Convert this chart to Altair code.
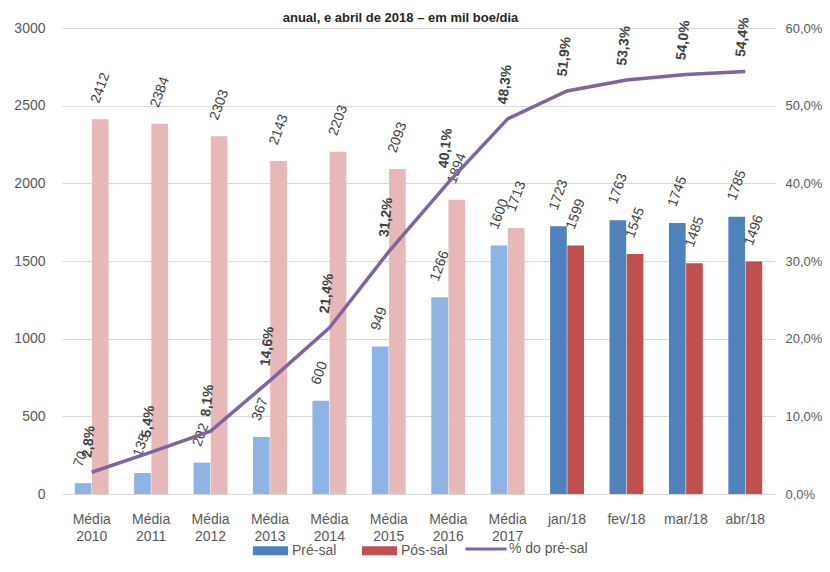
import altair as alt
import pandas as pd

FONT = "Liberation Sans, Arial, sans-serif"

cats = ["Média 2010", "Média 2011", "Média 2012", "Média 2013", "Média 2014",
        "Média 2015", "Média 2016", "Média 2017", "jan/18", "fev/18", "mar/18", "abr/18"]
periodo = ["anual"] * 8 + ["mensal"] * 4
pre_sal = [70, 135, 202, 367, 600, 949, 1266, 1600, 1723, 1763, 1745, 1785]
pos_sal = [2412, 2384, 2303, 2143, 2203, 2093, 1894, 1713, 1599, 1545, 1485, 1496]
pct_pre = [2.8, 5.4, 8.1, 14.6, 21.4, 31.2, 40.1, 48.3, 51.9, 53.3, 54.0, 54.4]

series = ["Pré-sal", "Pós-sal"]
color_domain = ["Pré-sal", "Pós-sal", "Pré-sal anual", "Pós-sal anual"]
color_range = ["#4F81BD", "#C0504D", "#8EB4E3", "#E6B9B8"]

rows = []
for c, per, a, b in zip(cats, periodo, pre_sal, pos_sal):
    suf = " anual" if per == "anual" else ""
    rows.append({"cat": c, "serie": "Pré-sal", "cor": "Pré-sal" + suf, "valor": a})
    rows.append({"cat": c, "serie": "Pós-sal", "cor": "Pós-sal" + suf, "valor": b})
bars_df = pd.DataFrame(rows)
line_df = pd.DataFrame({"cat": cats, "pct": pct_pre, "serie": "% do pré-sal"})

x_enc = alt.X(
    "cat:N", sort=cats,
    scale=alt.Scale(paddingInner=0.43, paddingOuter=0.215),
    axis=alt.Axis(title=None, labelExpr="split(datum.label, ' ')", labelAngle=0,
                  labelFontSize=14, labelColor="#595959", labelFont=FONT,
                  ticks=False, domain=False, labelPadding=18, labelLineHeight=17,
                  labelBaseline="top"),
)
xoff = alt.XOffset("serie:N", sort=series, scale=alt.Scale(paddingInner=0.03))

y_left = alt.Y(
    "valor:Q", scale=alt.Scale(domain=[0, 3000], nice=False),
    axis=alt.Axis(title=None, values=[0, 500, 1000, 1500, 2000, 2500, 3000], format="d",
                  grid=True, gridColor="#D9D9D9", ticks=False, domain=False,
                  labelPadding=17, labelFontSize=14, labelColor="#595959", labelFont=FONT),
)

bar_legend = alt.Legend(
    title=None, orient="none", legendX=190, legendY=504, direction="horizontal",
    values=["Pré-sal", "Pós-sal"], symbolSize=1369,
    symbolType="M-0.95,-0.24H0.95V0.24H-0.95Z",
    labelFontSize=14, labelColor="#595959", labelFont=FONT, columnPadding=24,
    labelOffset=3, symbolStrokeWidth=0,
)

line_legend = alt.Legend(
    title=None, orient="none", legendX=402, legendY=499, direction="horizontal",
    symbolSize=1681, symbolType="M-1,0H1", symbolStrokeWidth=3,
    labelFontSize=14, labelColor="#595959", labelFont=FONT, labelOffset=1,
)

bars = alt.Chart(bars_df).mark_bar().encode(
    x=x_enc, xOffset=xoff, y=y_left,
    color=alt.Color("cor:N", scale=alt.Scale(domain=color_domain, range=color_range),
                    legend=bar_legend),
)

bar_text = alt.Chart(bars_df).mark_text(
    angle=290, align="left", baseline="middle", dx=14, dy=-10.5,
    fontSize=14, font=FONT, color="#404040",
).encode(
    x=x_enc, xOffset=xoff, y=y_left,
    text=alt.Text("valor:Q", format="d"),
)

y_right = alt.Y(
    "pct:Q", scale=alt.Scale(domain=[0, 60], nice=False),
    axis=alt.Axis(title=None, orient="right", values=[0, 10, 20, 30, 40, 50, 60],
                  labelExpr="replace(format(datum.value, '.1f'), '.', ',') + '%'",
                  grid=False, ticks=False, domain=False, labelPadding=10,
                  labelFontSize=13, labelColor="#595959", labelFont=FONT),
)

line = alt.Chart(line_df).mark_line(strokeWidth=3.5).encode(
    x=x_enc, y=y_right,
    stroke=alt.Stroke("serie:N", scale=alt.Scale(domain=["% do pré-sal"], range=["#8064A2"]),
                      legend=line_legend),
)

line_text = alt.Chart(line_df).transform_calculate(
    lbl="replace(format(datum.pct, '.1f'), '.', ',') + '%'"
).mark_text(
    angle=276, align="left", baseline="middle", dx=14, dy=-6,
    fontSize=14, font=FONT, fontWeight="bold", color="#404040",
).encode(
    x=x_enc, y=y_right,
    text="lbl:N",
)

left = alt.layer(bars, bar_text)
right = alt.layer(line, line_text)

chart = alt.layer(left, right).resolve_scale(y="independent").properties(
    width=713, height=466,
    title=alt.TitleParams("anual, e abril de 2018 – em mil boe/dia", fontSize=13, font=FONT,
                          fontWeight="bold", color="#262626", offset=-8, dx=-18,
                          anchor="middle", frame="group"),
    autosize=alt.AutoSizeParams(type="none"),
    padding={"top": 20, "left": 54, "right": 47, "bottom": 70},
    background="white",
).configure_view(stroke=None)

chart.save("out.html", embed_options={"renderer": "svg", "actions": False})
